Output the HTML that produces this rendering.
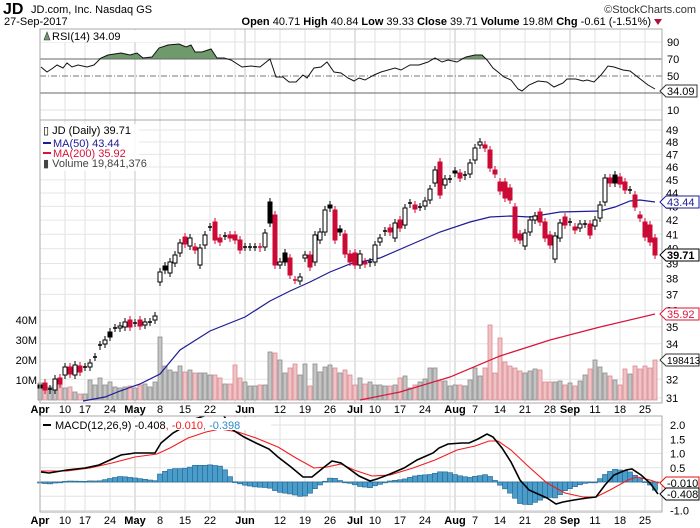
<!DOCTYPE html>
<html><head><meta charset="utf-8">
<style>
html,body{margin:0;padding:0;background:#fff;}
svg{display:block;font-family:"Liberation Sans",sans-serif;}
</style></head>
<body>
<svg id="s" width="700" height="528" xmlns="http://www.w3.org/2000/svg">
<text x="3" y="14" font-size="16" font-weight="bold">JD</text>
<text x="31" y="13" font-size="11">JD.com, Inc. Nasdaq GS</text>
<text x="696" y="13" font-size="11" text-anchor="end" fill="#333">©StockCharts.com</text>
<text x="4" y="25" font-size="11">27-Sep-2017</text>
<text x="651" y="25" font-size="11" text-anchor="end"><tspan font-weight="bold">Open</tspan> 40.71 <tspan font-weight="bold">High</tspan> 40.84 <tspan font-weight="bold">Low</tspan> 39.33 <tspan font-weight="bold">Close</tspan> 39.71 <tspan font-weight="bold">Volume</tspan> 19.8M <tspan font-weight="bold">Chg</tspan> -0.61 (-1.51%)</text>
<polygon points="654,19 662,19 658,25" fill="#b0103a"/>
</svg>
<script>
const S=document.getElementById('s');const NS='http://www.w3.org/2000/svg';
function el(t,a,txt){const e=document.createElementNS(NS,t);for(const k in a)e.setAttribute(k,a[k]);if(txt!==undefined)e.textContent=txt;S.appendChild(e);return e;}
const L=40,R=662;
const C=[[385,388],[383,390],[389,390],[390,379],[378,384],[375,367],[367,374],[375,365],[366,372],[367,367],[367,363],[357,357],[346,345],[344,340],[332,337],[328,328],[328,326],[327,322],[320,327],[323,323],[320,326],[325,322],[322,322],[320,316],
[282,272],[266,270],[273,262],[263,255],[253,243],[237,244],[246,238],[247,250],[265,248],[245,235],[227,227],[222,240],[238,242],[236,236],[235,238],[235,240],[240,250],[247,247],[247,247],[247,247],[247,248],[247,233],[202,223],[215,265],[265,262],[253,262],[258,275],[280,280],[281,277],[258,255],[255,267],[262,235],[240,232],[232,210],[205,208],[210,240],[229,232],[234,254],
[254,262],[253,265],[265,254],[262,264],[263,262],[262,245],[242,238],[232,231],[228,232],[238,223],[220,228],[225,208],[203,204],[205,209],[207,207],[206,201],[200,189],[183,170],[162,195],[185,179],[179,179],[171,173],[173,178],[175,176],[174,163],[160,148],[145,142],[145,148],[150,168],[170,174],[182,191],[182,198],[188,200],[207,238],[234,240],[246,233],[232,220],[220,216],[212,222],[222,238],[235,245],[259,236],[238,223],[217,225],[222,222],[227,230],[228,224],[224,224],[224,235],[226,220],[218,205],[202,178],[178,183],[175,183],[177,184],[182,190],[190,190],[195,207],[215,218],[222,237],[225,242],[238,255]];
const V=[383,385,387,387,385,388,387,392,394,394,380,385,378,385,382,387,388,387,386,388,385,384,387,382,337,366,370,372,366,372,370,373,373,373,375,375,378,384,384,365,378,382,386,386,385,385,352,353,360,373,368,364,375,364,386,364,372,367,365,368,373,370,375,385,378,384,382,385,385,386,386,385,378,376,388,385,382,379,368,368,381,381,386,385,385,386,380,368,376,368,325,373,338,362,366,368,371,373,371,369,370,382,382,382,381,385,383,386,381,375,369,360,367,373,376,380,385,369,374,366,369,366,368,360];
const X=i=>40+5*i;
const py=p=>130+(Math.log(49)-Math.log(p))*585;
const weeks=[5,9,14,24,29,34,39,43,48,53,58,67,72,77,82,87,92,97,102,111,116,121];
const months=[19,41,63,83,106];
function vgrid(y1,y2){weeks.forEach(i=>el('line',{x1:X(i),x2:X(i),y1,y2,stroke:'#e2e2e2','stroke-width':1}));months.forEach(i=>el('line',{x1:X(i),x2:X(i),y1,y2,stroke:'#c4c4c4','stroke-width':1}));}
vgrid(29,120);
const ry=v=>93-(v-30)*0.85;
[90,10].forEach(v=>el('line',{x1:L,x2:R,y1:ry(v),y2:ry(v),stroke:'#e2e2e2'}));
const rsi=[[41,67],[47,72],[53,68],[57,65],[63,68],[67,63],[72,67],[78,65],[87,67],[94,65],[101,58],[108,55],[121,53],[130,55],[137,53],[143,58],[152,57],[159,48],[168,45],[179,44],[186,47],[191,45],[195,52],[202,52],[211,49],[217,58],[224,58],[231,60],[242,67],[251,66],[260,67],[265,63],[270,59],[276,77],[283,77],[289,82],[296,82],[303,75],[307,78],[314,68],[321,67],[327,62],[334,72],[341,73],[348,78],[354,81],[359,78],[365,80],[374,75],[381,72],[395,68],[401,70],[410,65],[419,65],[428,62],[435,58],[442,62],[448,60],[457,62],[466,57],[475,55],[482,55],[487,60],[493,68],[498,72],[504,77],[511,80],[518,89],[522,91],[529,85],[538,81],[547,82],[554,87],[563,83],[567,79],[576,79],[583,81],[587,80],[594,82],[601,75],[608,66],[614,67],[623,70],[630,71],[639,78],[648,85],[655,89]];
let fp='M'+rsi[0][0]+',59 '+rsi.map(p=>'L'+p[0]+','+Math.min(p[1],59)).join(' ')+' L655,59 Z';
el('path',{d:fp,fill:'#6f9a6c',stroke:'none'});
el('line',{x1:L,x2:R,y1:59,y2:59,stroke:'#666'});
el('line',{x1:L,x2:R,y1:93,y2:93,stroke:'#666'});
el('line',{x1:L,x2:R,y1:76,y2:76,stroke:'#777','stroke-dasharray':'6,2,1,2'});
el('polyline',{points:rsi.map(p=>p.join(',')).join(' '),fill:'none',stroke:'#111','stroke-width':1});
el('rect',{x:L,y:29,width:R-L,height:91,fill:'none',stroke:'#aaa'});
el('rect',{x:41,y:30,width:120,height:12,fill:'#fff'});
el('polygon',{points:'44,40 47,32 50,40',fill:'#6f9a6c',stroke:'#333','stroke-width':0.6});
el('text',{x:52,y:40,'font-size':11},'RSI(14) 34.09');
[[90,42],[70,59],[50,76],[10,110]].forEach(a=>el('text',{x:667,y:a[1]+4,'font-size':11},a[0]));
el('text',{x:667,y:97,'font-size':11},'30');
el('polygon',{points:'660,91 666,85 697,85 697,97 666,97',fill:'#fff',stroke:'#333'});
el('text',{x:667,y:95,'font-size':11},'34.09');
vgrid(120,403);
for(let p=31;p<=49;p++){const y=py(p);el('line',{x1:L,x2:R,y1:y,y2:y,stroke:'#e6e6e6'});}
C.forEach((c,i)=>{const down=i>0&&c[1]>C[i-1][1];el('rect',{x:X(i)-2,y:V[i],width:4,height:400-V[i],fill:down?'#f1c3c6':'#c4c4c4',stroke:down?'#d98a90':'#8c8c8c','stroke-width':0.8});});
const ma50=[[83,401],[105,397],[120,391],[140,384],[160,374],[180,350],[210,331],[245,317],[270,301],[290,291],[310,282],[330,272],[350,264],[380,258],[410,245],[440,232],[470,222],[490,217],[510,216],[530,217],[560,212],[600,211],[615,207],[630,201],[640,200],[655,202]];
const ma200=[[360,400],[400,392],[450,377],[500,356],[550,340],[600,327],[655,314]];
el('polyline',{points:ma200.map(p=>p.join(',')).join(' '),fill:'none',stroke:'#d8143a','stroke-width':1.2});
el('polyline',{points:ma50.map(p=>p.join(',')).join(' '),fill:'none',stroke:'#1c1c96','stroke-width':1.2});
C.forEach((c,i)=>{const x=X(i);const red=i>0&&c[1]>C[i-1][1];const col=red?'#cc0a36':'#000';
 const top=Math.min(c[0],c[1]),bot=Math.max(c[0],c[1]);
 el('line',{x1:x,x2:x,y1:top-4,y2:bot+4,stroke:col,'stroke-width':1});
 const hollow=c[1]<c[0];
 if(bot-top<1.5){el('line',{x1:x-2,x2:x+2,y1:top,y2:top,stroke:col,'stroke-width':1.5});}
 else el('rect',{x:x-2,y:top,width:4,height:bot-top,fill:hollow?'#fff':col,stroke:col,'stroke-width':1});});
el('rect',{x:L,y:120,width:R-L,height:283,fill:'none',stroke:'#aaa'});
el('rect',{x:41,y:124,width:98,height:47,fill:'#fff','fill-opacity':0.85});
el('text',{x:43,y:134,'font-size':11},'▯ JD (Daily) 39.71');
el('line',{x1:43,x2:51,y1:143,y2:143,stroke:'#1c1c96','stroke-width':2});
el('text',{x:53,y:147,'font-size':11,fill:'#1c1c96'},'MA(50) 43.44');
el('line',{x1:43,x2:51,y1:153,y2:153,stroke:'#d8143a','stroke-width':2});
el('text',{x:53,y:157,'font-size':11,fill:'#d8143a'},'MA(200) 35.92');
el('text',{x:43,y:167,'font-size':11,fill:'#444'},'▮ Volume 19,841,376');
for(let p=31;p<=49;p++){el('text',{x:666,y:py(p)+4,'font-size':11},p);}
function tag(y,t,col,bold,fs){el('polygon',{points:`660,${y} 666,${y-6} 699,${y-6} 699,${y+6} 666,${y+6}`,fill:'#fff',stroke:col});el('text',{x:667,y:y+4,'font-size':fs||11,fill:col=='#333'?'#000':col,'font-weight':bold?'bold':'normal'},t);}
tag(202,'43.44','#1c1c96');tag(255,'39.71','#000',true);tag(314,'35.92','#d8143a');tag(360,'198413','#333',false,10);
[[40,320],[30,340],[20,360],[10,380]].forEach(a=>el('text',{x:37,y:a[1]+4,'font-size':11,'text-anchor':'end'},a[0]+'M'));
function dates(y){const lab=[['Apr',0,1],['10',5],['17',9],['24',14],['May',19,1],['8',24],['15',29],['22',34],['Jun',41,1],['12',48],['19',53],['26',58],['Jul',63,1],['10',67],['17',72],['24',77],['Aug',83,1],['7',87],['14',92],['21',97],['28',102],['Sep',106,1],['11',111],['18',116],['25',121]];
 lab.forEach(a=>el('text',{x:X(a[1]),y,'font-size':11,'text-anchor':'middle','font-weight':a[2]?'bold':'normal'},a[0]));}
dates(413);
vgrid(416,512);
const my=v=>482-v*28.5;
[2,1.5,1,0.5,-0.5,-1].forEach(v=>el('line',{x1:L,x2:R,y1:my(v),y2:my(v),stroke:'#e2e2e2'}));
const mb=[[41,472],[49,473],[67,470],[85,468],[99,465],[110,460],[121,455],[135,453],[143,453],[155,453],[161,443],[173,433],[182,428],[195,419],[210,414],[222,413],[233,430],[244,437],[256,443],[269,449],[278,457],[291,467],[303,477],[312,477],[323,468],[332,461],[341,463],[348,468],[359,476],[370,481],[377,479],[390,474],[404,468],[417,460],[433,453],[439,448],[448,444],[462,443],[469,443],[478,439],[487,434],[493,437],[502,448],[511,462],[520,480],[529,490],[538,494],[547,498],[556,504],[563,502],[574,500],[587,498],[596,497],[605,485],[614,475],[626,470],[632,469],[641,475],[650,483],[658,494]];
const ms=[[41,471],[67,471],[90,468],[112,463],[135,457],[157,454],[170,448],[188,438],[206,432],[220,429],[238,432],[256,438],[278,447],[296,458],[314,468],[327,467],[341,464],[354,470],[372,476],[390,475],[413,468],[435,460],[457,450],[475,446],[489,441],[498,441],[511,450],[529,467],[547,483],[565,493],[583,497],[596,497],[610,490],[628,480],[637,477],[650,480],[659,483]];
function interp(arr,x){for(let k=0;k<arr.length-1;k++){if(x>=arr[k][0]&&x<=arr[k+1][0]){const t=(x-arr[k][0])/(arr[k+1][0]-arr[k][0]);return arr[k][1]+t*(arr[k+1][1]-arr[k][1]);}}return x<arr[0][0]?arr[0][1]:arr[arr.length-1][1];}
el('line',{x1:L,x2:R,y1:482,y2:482,stroke:'#999'});
for(let i=0;i<124;i++){const x=X(i);const h=interp(mb,x)-interp(ms,x);const y0=482,y1=482+h;el('rect',{x:x-2.5,y:Math.min(y0,y1),width:5,height:Math.max(0.8,Math.abs(h)),fill:'#4a9ccb',stroke:'#2b6f98','stroke-width':0.7});}
const cp=el('clipPath',{id:'mc'});const cr=document.createElementNS(NS,'rect');cr.setAttribute('x',L);cr.setAttribute('y',416);cr.setAttribute('width',R-L);cr.setAttribute('height',96);cp.appendChild(cr);
el('polyline',{points:ms.map(p=>p.join(',')).join(' '),fill:'none',stroke:'#f21a1a','stroke-width':1.1,'clip-path':'url(#mc)'});
el('polyline',{points:mb.map(p=>p.join(',')).join(' '),fill:'none',stroke:'#000','stroke-width':1.6,'clip-path':'url(#mc)'});
el('rect',{x:L,y:416,width:R-L,height:96,fill:'none',stroke:'#aaa'});
el('rect',{x:41,y:418,width:230,height:12,fill:'#fff'});
el('line',{x1:43,x2:51,y1:425,y2:425,stroke:'#000','stroke-width':2});
const mt=el('text',{x:55,y:429,'font-size':11});mt.innerHTML='MACD(12,26,9) -0.408<tspan fill="#f21a1a">, -0.010</tspan><tspan fill="#2b8fc4">, -0.398</tspan>';
[[2,'2.0'],[1.5,'1.5'],[1,'1.0'],[0.5,'0.5'],[-1,'-1.0']].forEach(a=>el('text',{x:670,y:my(a[0])+4,'font-size':11},a[1]));
el('polygon',{points:'660,483 666,477 699,477 699,489 666,489',fill:'#fff',stroke:'#e01010'});
el('text',{x:667,y:487,'font-size':11},'-0.010');
el('polygon',{points:'660,494 666,488 699,488 699,500 666,500',fill:'#fff',stroke:'#000'});
el('text',{x:667,y:498,'font-size':11},'-0.408');
dates(524);
</script>
</body></html>
